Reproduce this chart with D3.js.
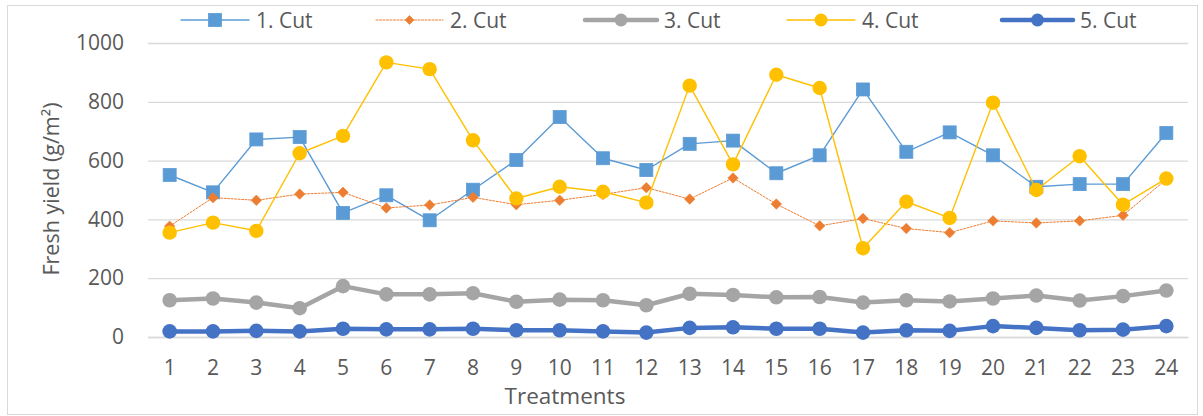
<!DOCTYPE html>
<html>
<head>
<meta charset="utf-8">
<script src="https://cdn.jsdelivr.net/npm/d3@7/dist/d3.min.js"></script>
<style>
  html, body { margin: 0; padding: 0; background: #fff; }
  svg { display: block; }
  text { font-family: "Open Sans", "Liberation Sans", sans-serif; fill: #595959; }
</style>
</head>
<body>
<svg id="chart" width="1203" height="416"></svg>
<script>
// ---- data ----
const treatments = ["1","2","3","4","5","6","7","8","9","10","11","12","13","14","15","16","17","18","19","20","21","22","23","24"];
const seriesNames = ["1. Cut", "2. Cut", "3. Cut", "4. Cut", "5. Cut"];
const cut1 = [551, 492, 672, 680, 422, 482, 397, 501, 602, 748, 608, 568, 657, 668, 557, 618, 842, 630, 696, 618, 511, 520, 520, 694];
const cut2 = [377, 474, 465, 486, 492, 439, 449, 475, 450, 465, 485, 508, 469, 541, 452, 378, 403, 369, 355, 395, 388, 395, 414, 536];
const cut3 = [125, 131, 117, 98, 173, 145, 145, 149, 120, 127, 125, 108, 147, 143, 135, 136, 117, 125, 121, 131, 141, 124, 139, 158];
const cut4 = [355, 389, 361, 625, 684, 934, 911, 669, 471, 511, 494, 457, 855, 587, 892, 847, 302, 460, 405, 797, 500, 615, 450, 539];
const cut5 = [19, 19, 21, 19, 28, 26, 26, 28, 23, 23, 19, 15, 31, 33, 28, 28, 15, 23, 21, 37, 31, 23, 25, 37];
const yTicks = [0, 200, 400, 600, 800, 1000];
const yTickLabels = ["0", "200", "400", "600", "800", "1000"];
const yTitle = "Fresh yield (g/m²)";
const xTitle = "Treatments";

// ---- styles ----
const styles = [
  { color: "#5B9BD5", width: 1.4, dash: null, marker: "square", size: 13, legendSize: 13 },
  { color: "#ED7D31", width: 1.0, dash: "2,1.5", marker: "diamond", size: 10.5, legendSize: 9 },
  { color: "#A5A5A5", width: 4.5, dash: null, marker: "circle", size: 7.3, legendSize: 6.5 },
  { color: "#FFC000", width: 1.4, dash: null, marker: "circle", size: 7.2, legendSize: 6.5 },
  { color: "#4472C4", width: 4.5, dash: null, marker: "circle", size: 7.3, legendSize: 6.5 }
];
const allSeries = [cut1, cut2, cut3, cut4, cut5];

const svg = d3.select("#chart");
const plot = { left: 148, right: 1188, top: 43, bottom: 337 };

// outer border
svg.append("rect")
  .attr("x", 7.5).attr("y", 5.5).attr("width", 1190).attr("height", 409)
  .attr("fill", "#fff").attr("stroke", "#d9d9d9").attr("stroke-width", 1);

const x = d3.scaleBand().domain(treatments).range([plot.left, plot.right]).padding(0);
const y = d3.scaleLinear().domain([0, 1000]).range([plot.bottom, plot.top]);
const cx = d => x(d) + x.bandwidth() / 2;

// gridlines
const grid = svg.append("g").attr("transform", `translate(${plot.left},0)`)
  .call(d3.axisLeft(y).tickValues(yTicks).tickSize(-(plot.right - plot.left)).tickFormat(""));
grid.select(".domain").remove();
grid.selectAll("line").attr("stroke", "#d9d9d9").attr("stroke-width", 1.3);

// y axis labels
const yAxis = svg.append("g").attr("transform", `translate(${plot.left},0)`)
  .call(d3.axisLeft(y).tickValues(yTicks).tickSize(0).tickPadding(24)
    .tickFormat((d, i) => yTickLabels[i]));
yAxis.select(".domain").remove();
yAxis.selectAll("text").style("font-size", "21px").attr("fill", "#595959").style("font-family", '"Open Sans", sans-serif');

// x axis
const xAxis = svg.append("g").attr("transform", `translate(0,${plot.bottom})`)
  .call(d3.axisBottom(x).tickSize(0).tickPadding(23));
xAxis.select(".domain").attr("stroke", "#d9d9d9").attr("stroke-width", 1.3);
xAxis.selectAll("text").style("font-size", "21px").attr("fill", "#595959").style("font-family", '"Open Sans", sans-serif');

// axis titles
svg.append("text")
  .attr("transform", `translate(59,189) rotate(-90)`)
  .attr("text-anchor", "middle")
  .style("font-size", "21.5px")
  .text(yTitle);

svg.append("text")
  .attr("x", 565).attr("y", 404)
  .attr("text-anchor", "middle")
  .style("font-size", "22.5px")
  .text(xTitle);

function drawMarker(g, type, px, py, size, color) {
  if (type === "square") {
    g.append("rect").attr("x", px - size / 2).attr("y", py - size / 2)
      .attr("width", size).attr("height", size).attr("fill", color)
      .attr("stroke", color).attr("stroke-width", 0.8);
  } else if (type === "diamond") {
    const h = size / 2;
    g.append("path").attr("d", `M${px},${py - h}L${px + h},${py}L${px},${py + h}L${px - h},${py}Z`)
      .attr("fill", color).attr("stroke", color).attr("stroke-width", 0.6);
  } else {
    g.append("circle").attr("cx", px).attr("cy", py).attr("r", size)
      .attr("fill", color);
  }
}

// series
allSeries.forEach((vals, i) => {
  const st = styles[i];
  const g = svg.append("g");
  const line = d3.line().x((d, j) => cx(treatments[j])).y(d => y(d));
  g.append("path").datum(vals).attr("d", line)
    .attr("fill", "none").attr("stroke", st.color).attr("stroke-width", st.width)
    .attr("stroke-linejoin", "round").attr("stroke-linecap", "round")
    .attr("stroke-dasharray", st.dash);
  vals.forEach((v, j) => drawMarker(g, st.marker, cx(treatments[j]), y(v), st.size, st.color));
});

// legend
const legendStart = [181, 376, 585, 787, 1002];
const legendLineLen = [68, 67, 72, 68, 71];
const ly = 20;
seriesNames.forEach((name, i) => {
  const st = styles[i];
  const g = svg.append("g");
  const x0 = legendStart[i], x1 = x0 + legendLineLen[i];
  g.append("line").attr("x1", x0).attr("x2", x1).attr("y1", ly).attr("y2", ly)
    .attr("stroke", st.color).attr("stroke-width", st.width)
    .attr("stroke-linecap", "round")
    .attr("stroke-dasharray", st.dash);
  drawMarker(g, st.marker, (x0 + x1) / 2, ly, st.legendSize, st.color);
  g.append("text").attr("x", x1 + 7).attr("y", ly).attr("dy", "0.36em")
    .style("font-size", "21px").text(name);
});
</script>
</body>
</html>
